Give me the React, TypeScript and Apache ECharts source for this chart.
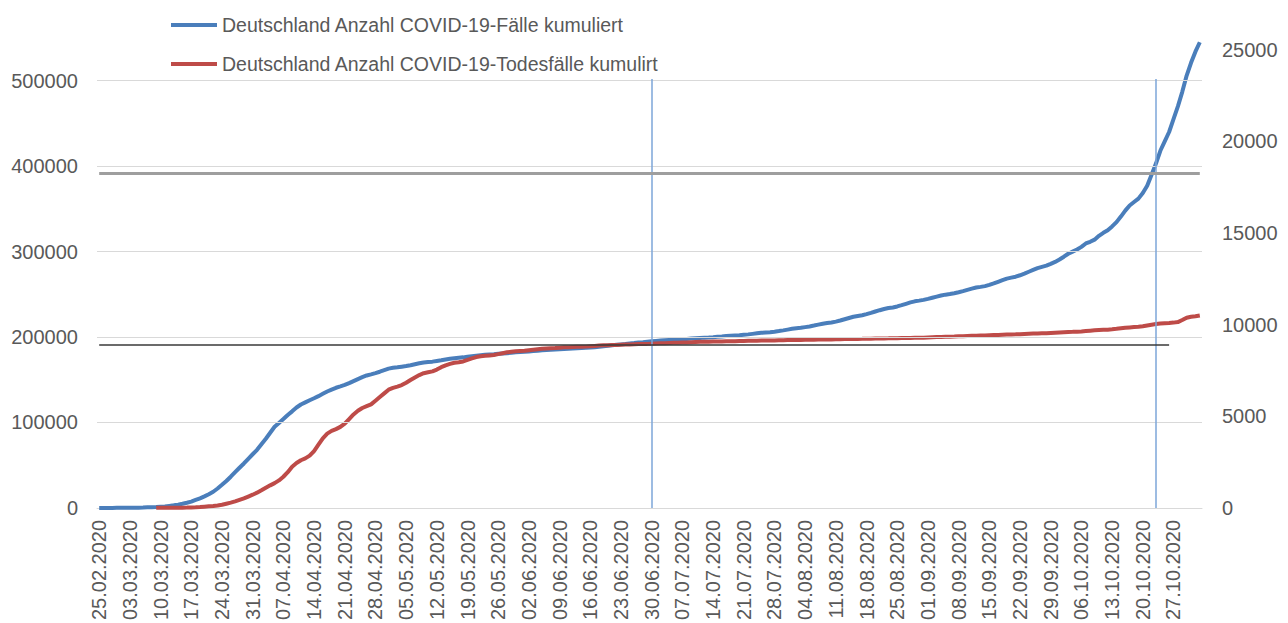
import React, { useEffect, useRef } from "react";
import * as echarts from "echarts";

const casesName = "Deutschland Anzahl COVID-19-Fälle kumuliert";
const deathsName = "Deutschland Anzahl COVID-19-Todesfälle kumulirt";

// cumulative cases per day (left axis)
const febCases = [16, 18, 21, 26, 53];
const marCases = [66, 117, 150, 188, 240, 400, 639, 795, 1000, 1296, 1567, 2369, 3062, 3795, 4838, 6012, 7400, 9367, 11200, 13500, 16000, 18900, 22700, 27000, 31500, 36500, 41800, 47000, 52000, 57500, 62800];
const aprCases = [68000, 74500, 81000, 88000, 95000, 99500, 104000, 108700, 113000, 117500, 121000, 123500, 126000, 128300, 130800, 133500, 136200, 138500, 140600, 142200, 143900, 146000, 148400, 150800, 153000, 155000, 156300, 157800, 159400, 161200];
const mayCases = [163000, 164000, 164600, 165300, 166000, 167000, 168200, 169300, 170200, 170800, 171200, 172000, 172800, 173700, 174600, 175200, 175800, 176200, 177000, 177600, 178200, 178700, 179200, 179600, 179900, 180300, 180700, 181100, 181600, 182200, 182500];
const junCases = [182800, 183100, 183500, 184000, 184500, 184900, 185200, 185400, 185700, 186000, 186400, 186700, 187000, 187200, 187400, 187700, 188000, 188500, 189200, 189800, 190400, 190900, 191400, 191900, 192500, 193000, 193600, 194000, 194500, 195000];
const julCases = [195400, 195800, 196200, 196600, 196900, 197100, 197400, 197800, 198200, 198600, 199000, 199300, 199500, 199800, 200200, 200600, 201100, 201500, 201800, 202100, 202600, 203100, 203700, 204300, 204900, 205300, 205700, 206300, 207000, 207800, 208700];
const augCases = [209600, 210300, 210800, 211600, 212400, 213400, 214500, 215600, 216400, 217000, 218000, 219300, 220800, 222300, 223700, 224700, 225500, 226800, 228300, 229900, 231400, 232800, 233900, 234600, 235800, 237300, 238900, 240500, 241800, 242600, 243500];
const sepCases = [244700, 246000, 247300, 248600, 249600, 250300, 251200, 252400, 253700, 255200, 256600, 257900, 258700, 259600, 261000, 262800, 264700, 266600, 268400, 269500, 270600, 272300, 274200, 276400, 278500, 280600, 282100, 283500, 285600, 287900];
const octCases = [290700, 294000, 297500, 300000, 302500, 305500, 309500, 311500, 314000, 318500, 322000, 325000, 329500, 334500, 341000, 348000, 354000, 358000, 362000, 368500, 377000, 390000, 403000, 418000, 429000, 440000, 455000, 470000, 487000, 506000, 521000];
const novCases = [534000, 545000];

// cumulative deaths per day (right axis)
const febDeaths = [null, null, null, null, null];
const marDeaths = [null, null, null, null, null, null, null, null, 2, 2, 3, 5, 8, 10, 13, 17, 24, 30, 44, 67, 84, 100, 130, 170, 230, 290, 360, 440, 520, 620, 720];
const aprDeaths = [830, 960, 1100, 1230, 1350, 1500, 1700, 1950, 2250, 2450, 2600, 2700, 2850, 3100, 3450, 3800, 4050, 4200, 4300, 4420, 4600, 4850, 5100, 5300, 5450, 5550, 5650, 5850, 6050, 6250];
const mayDeaths = [6450, 6550, 6620, 6700, 6830, 6980, 7120, 7250, 7350, 7400, 7450, 7550, 7680, 7780, 7860, 7920, 7950, 7990, 8080, 8160, 8230, 8270, 8300, 8320, 8340, 8390, 8440, 8490, 8520, 8550, 8560];
const junDeaths = [8570, 8600, 8630, 8660, 8690, 8700, 8710, 8720, 8740, 8760, 8770, 8780, 8790, 8795, 8800, 8820, 8840, 8860, 8870, 8880, 8885, 8890, 8900, 8910, 8920, 8930, 8940, 8945, 8950, 8960];
const julDeaths = [8970, 8980, 8990, 9000, 9005, 9010, 9020, 9030, 9040, 9050, 9060, 9065, 9070, 9075, 9080, 9085, 9090, 9095, 9100, 9105, 9110, 9115, 9120, 9125, 9130, 9132, 9135, 9140, 9145, 9150, 9155];
const augDeaths = [9160, 9162, 9165, 9170, 9175, 9180, 9185, 9190, 9193, 9195, 9200, 9205, 9210, 9215, 9220, 9222, 9225, 9230, 9235, 9240, 9245, 9250, 9252, 9255, 9260, 9265, 9270, 9275, 9280, 9282, 9285];
const sepDeaths = [9300, 9310, 9320, 9330, 9340, 9345, 9350, 9360, 9370, 9380, 9390, 9400, 9405, 9410, 9420, 9430, 9440, 9450, 9460, 9465, 9470, 9480, 9490, 9500, 9510, 9520, 9525, 9530, 9545, 9560];
const octDeaths = [9575, 9590, 9600, 9605, 9615, 9630, 9650, 9670, 9690, 9705, 9715, 9725, 9745, 9770, 9800, 9830, 9850, 9865, 9880, 9910, 9950, 9990, 10030, 10060, 10075, 10090, 10110, 10140, 10250, 10380, 10430];
const novDeaths = [10460, 10500];

const months = [
  { month: 2, firstDay: 25, cases: febCases, deaths: febDeaths },
  { month: 3, firstDay: 1, cases: marCases, deaths: marDeaths },
  { month: 4, firstDay: 1, cases: aprCases, deaths: aprDeaths },
  { month: 5, firstDay: 1, cases: mayCases, deaths: mayDeaths },
  { month: 6, firstDay: 1, cases: junCases, deaths: junDeaths },
  { month: 7, firstDay: 1, cases: julCases, deaths: julDeaths },
  { month: 8, firstDay: 1, cases: augCases, deaths: augDeaths },
  { month: 9, firstDay: 1, cases: sepCases, deaths: sepDeaths },
  { month: 10, firstDay: 1, cases: octCases, deaths: octDeaths },
  { month: 11, firstDay: 1, cases: novCases, deaths: novDeaths },
];

const leftTicks = [100000, 200000, 300000, 400000, 500000];
const verticalMarkers = ["30.06.2020", "23.10.2020"];
const grayLineValue = 391800;
const grayLineEnd = "02.11.2020";
const blackLineValue = 190900;
const blackLineEnd = "26.10.2020";
const verticalTop = 502000;

const pad = (n: number) => (n < 10 ? "0" + n : String(n));
const dates: string[] = [];
const cases: (number | null)[] = [];
const deaths: (number | null)[] = [];
months.forEach((m) => {
  m.cases.forEach((v, i) => {
    dates.push(`${pad(m.firstDay + i)}.${pad(m.month)}.2020`);
    cases.push(v);
    deaths.push(m.deaths[i] as number | null);
  });
});

const FONT = "'Liberation Sans', Arial, sans-serif";
const GREY_TEXT = "#595959";

export default function App() {
  const ref = useRef<HTMLDivElement>(null);
  useEffect(() => {
    if (!ref.current) return;
    const chart = echarts.init(ref.current, null, { renderer: "svg" });
    chart.setOption({
      animation: false,
      backgroundColor: "#ffffff",
      textStyle: { fontFamily: FONT },
      legend: {
        orient: "vertical",
        left: 166,
        top: 8,
        itemGap: 15,
        icon: "rect",
        itemWidth: 46,
        itemHeight: 4,
        data: [casesName, deathsName],
        textStyle: { fontSize: 19.5, color: GREY_TEXT, lineHeight: 24, fontFamily: FONT },
      },
      grid: { left: 97, right: 86, top: 38, bottom: 115 },
      xAxis: {
        type: "category",
        data: dates,
        boundaryGap: true,
        axisLine: { lineStyle: { color: "#d9d9d9", width: 1 } },
        axisTick: { show: false },
        axisLabel: { interval: 6, rotate: 90, fontSize: 20, color: GREY_TEXT, margin: 12, fontFamily: FONT },
        splitLine: { show: false },
      },
      yAxis: [
        {
          type: "value",
          min: 0,
          max: 550000,
          interval: 100000,
          axisLine: { show: false },
          axisTick: { show: false },
          splitLine: { show: false },
          axisLabel: {
            fontSize: 20,
            color: GREY_TEXT,
            margin: 19,
            fontFamily: FONT,
            formatter: (v: number) => (v % 100000 === 0 ? String(v) : ""),
          },
        },
        {
          type: "value",
          position: "right",
          min: 0,
          max: 25640,
          interval: 5000,
          axisLine: { show: false },
          axisTick: { show: false },
          splitLine: { show: false },
          axisLabel: {
            fontSize: 20,
            color: GREY_TEXT,
            margin: 20,
            fontFamily: FONT,
            formatter: (v: number) => (v % 5000 === 0 ? String(v) : ""),
          },
        },
      ],
      series: [
        {
          name: "grid",
          type: "line",
          data: [],
          z: 0,
          silent: true,
          markLine: {
            silent: true,
            symbol: "none",
            label: { show: false },
            lineStyle: { color: "#d9d9d9", width: 1, type: "solid" },
            data: leftTicks.map((v) => ({ yAxis: v })),
          },
        },
        {
          name: casesName,
          type: "line",
          yAxisIndex: 0,
          data: cases,
          showSymbol: false,
          symbol: "none",
          lineStyle: { color: "#4A7EBB", width: 4 },
          itemStyle: { color: "#4A7EBB" },
          z: 3,
        },
        {
          name: deathsName,
          type: "line",
          yAxisIndex: 1,
          data: deaths,
          showSymbol: false,
          symbol: "none",
          connectNulls: false,
          lineStyle: { color: "#BE4B48", width: 4 },
          itemStyle: { color: "#BE4B48" },
          z: 4,
        },
        {
          name: "annotations",
          type: "line",
          data: [],
          z: 5,
          silent: true,
          markLine: {
            silent: true,
            symbol: "none",
            label: { show: false },
            data: [
              ...verticalMarkers.map((d) => [
                { coord: [d, 0], lineStyle: { color: "#7DA6D8", width: 1.5, type: "solid" } },
                { coord: [d, verticalTop] },
              ]),
              [
                { coord: [dates[0], grayLineValue], lineStyle: { color: "#9e9e9e", width: 3, type: "solid" } },
                { coord: [grayLineEnd, grayLineValue] },
              ],
              [
                { coord: [dates[0], blackLineValue], lineStyle: { color: "#3a3a3a", width: 1.5, type: "solid" } },
                { coord: [blackLineEnd, blackLineValue] },
              ],
            ],
          },
        },
      ],
    });
    return () => chart.dispose();
  }, []);
  return (
    <div
      ref={ref}
      style={{ position: "fixed", left: 0, top: 0, width: 1288, height: 623, background: "#fff" }}
    />
  );
}
